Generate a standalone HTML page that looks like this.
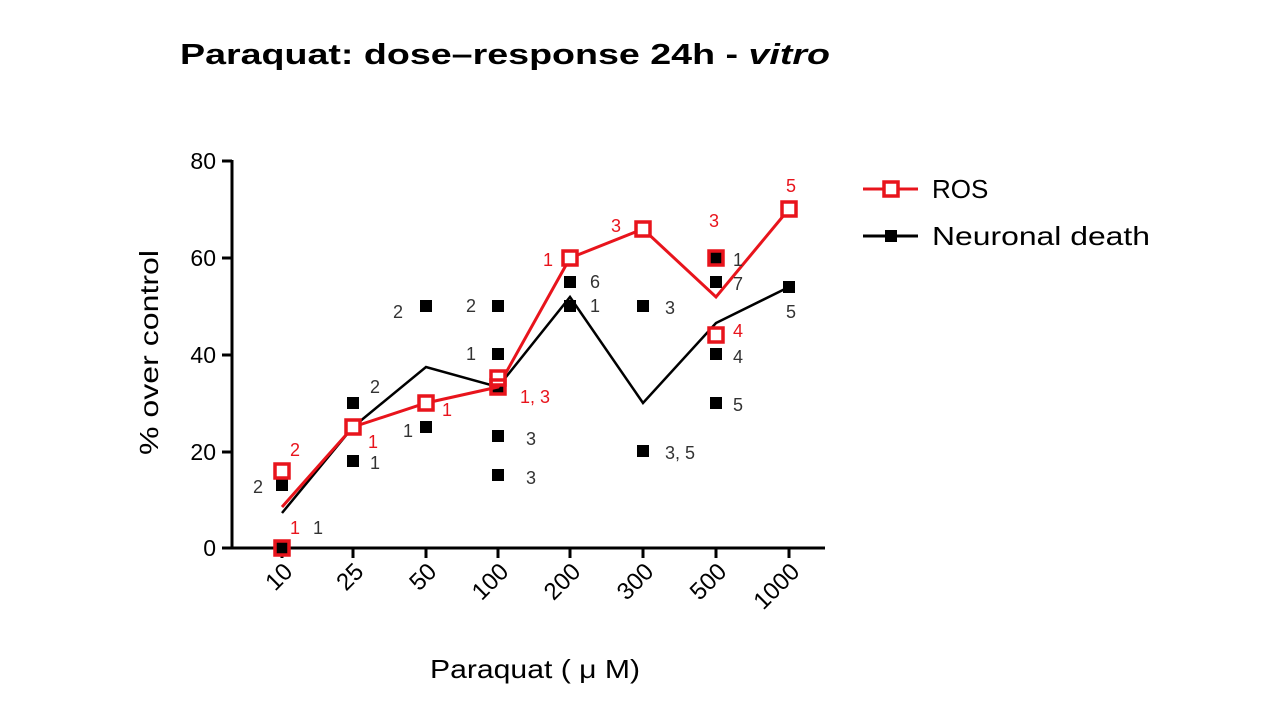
<!DOCTYPE html>
<html><head><style>body{margin:0;background:#fff}svg{display:block}</style></head><body>
<svg width="1280" height="720" xmlns="http://www.w3.org/2000/svg" font-family="Liberation Sans, Arial, sans-serif">
<text x="180" y="64" font-size="29" font-weight="bold" fill="#000" textLength="650" lengthAdjust="spacingAndGlyphs">Paraquat: dose–response 24h - <tspan font-style="italic">vitro</tspan></text>
<g stroke="#000" stroke-width="3">
<line x1="232" y1="160" x2="232" y2="549"/>
<line x1="231" y1="548" x2="825" y2="548"/>
<line x1="222" y1="161" x2="232" y2="161"/><line x1="222" y1="258" x2="232" y2="258"/><line x1="222" y1="355" x2="232" y2="355"/><line x1="222" y1="452" x2="232" y2="452"/><line x1="222" y1="548" x2="232" y2="548"/>
<line x1="282" y1="548" x2="282" y2="558"/><line x1="353" y1="548" x2="353" y2="558"/><line x1="426" y1="548" x2="426" y2="558"/><line x1="498" y1="548" x2="498" y2="558"/><line x1="570" y1="548" x2="570" y2="558"/><line x1="643" y1="548" x2="643" y2="558"/><line x1="716" y1="548" x2="716" y2="558"/><line x1="789" y1="548" x2="789" y2="558"/>
</g>
<g font-size="23" text-anchor="end" fill="#000">
<text x="216" y="169">80</text><text x="216" y="266">60</text><text x="216" y="363">40</text><text x="216" y="460">20</text><text x="216" y="556">0</text>
</g>
<g font-size="24" text-anchor="end" fill="#000">
<text transform="translate(294,573) rotate(-45)">10</text>
<text transform="translate(365,573) rotate(-45)">25</text>
<text transform="translate(438,573) rotate(-45)">50</text>
<text transform="translate(510,573) rotate(-45)">100</text>
<text transform="translate(582,573) rotate(-45)">200</text>
<text transform="translate(655,573) rotate(-45)">300</text>
<text transform="translate(728,573) rotate(-45)">500</text>
<text transform="translate(801,573) rotate(-45)">1000</text>
</g>
<text x="430" y="678" font-size="26" textLength="210" lengthAdjust="spacingAndGlyphs">Paraquat ( μ M)</text>
<text transform="translate(158,250) rotate(-90)" font-size="26" text-anchor="end" textLength="205" lengthAdjust="spacingAndGlyphs" x="-205" y="0" style="text-anchor:start">% over control</text>
<polyline fill="none" stroke="#000" stroke-width="2.5" points="282,513 353,427 426,367 498,387 570,297 643,403 716,323 789,287"/>
<g fill="#000">
<rect x="276" y="479" width="12" height="12"/><rect x="276" y="542" width="12" height="12"/>
<rect x="347" y="397" width="12" height="12"/><rect x="347" y="455" width="12" height="12"/>
<rect x="420" y="300" width="12" height="12"/><rect x="420" y="421" width="12" height="12"/>
<rect x="492" y="300" width="12" height="12"/><rect x="492" y="348" width="12" height="12"/><rect x="492" y="430" width="12" height="12"/><rect x="492" y="469" width="12" height="12"/><rect x="492" y="381" width="12" height="12"/>
<rect x="564" y="276" width="12" height="12"/><rect x="564" y="300" width="12" height="12"/>
<rect x="637" y="300" width="12" height="12"/><rect x="637" y="445" width="12" height="12"/>
<rect x="710" y="252" width="12" height="12"/><rect x="710" y="276" width="12" height="12"/><rect x="710" y="348" width="12" height="12"/><rect x="710" y="397" width="12" height="12"/>
<rect x="783" y="281" width="12" height="12"/>
</g>
<polyline fill="none" stroke="#e8141c" stroke-width="3" points="282,507 353,427 426,403 498,387 570,258 643,229 716,297 789,209"/>
<g fill="#fff" stroke="#e8141c" stroke-width="3.5">
<rect x="275" y="464" width="14" height="14"/><rect x="275" y="541" width="14" height="14" fill="none"/>
<rect x="346" y="420" width="14" height="14"/><rect x="419" y="396" width="14" height="14"/>
<rect x="491" y="371" width="14" height="14"/><rect x="491" y="380" width="14" height="14" fill="none"/>
<rect x="563" y="251" width="14" height="14"/><rect x="636" y="222" width="14" height="14"/>
<rect x="709" y="251" width="14" height="14" fill="none"/><rect x="709" y="328" width="14" height="14"/>
<rect x="782" y="202" width="14" height="14"/>
</g>
<g font-size="18" fill="#333">
<text x="253" y="493">2</text><text x="313" y="534">1</text>
<text x="370" y="393">2</text><text x="370" y="469">1</text>
<text x="393" y="318">2</text><text x="403" y="437">1</text>
<text x="466" y="312">2</text><text x="466" y="360">1</text><text x="526" y="445">3</text><text x="526" y="484">3</text>
<text x="590" y="288">6</text><text x="590" y="312">1</text>
<text x="665" y="314">3</text><text x="665" y="459">3, 5</text>
<text x="733" y="266">1</text><text x="733" y="290">7</text><text x="733" y="363">4</text><text x="733" y="411">5</text>
<text x="786" y="318">5</text>
</g>
<g font-size="18" fill="#e8141c">
<text x="290" y="456">2</text><text x="290" y="534">1</text>
<text x="368" y="448">1</text><text x="442" y="416">1</text><text x="520" y="403">1, 3</text>
<text x="543" y="266">1</text><text x="611" y="232">3</text><text x="709" y="227">3</text><text x="733" y="337">4</text><text x="786" y="192">5</text>
</g>
<line x1="863" y1="189" x2="918" y2="189" stroke="#e8141c" stroke-width="3"/>
<rect x="884" y="182" width="14" height="14" fill="#fff" stroke="#e8141c" stroke-width="3.5"/>
<text x="932" y="198" font-size="26">ROS</text>
<line x1="863" y1="236" x2="918" y2="236" stroke="#000" stroke-width="3"/>
<rect x="885" y="230" width="12" height="12" fill="#000"/>
<text x="932" y="245" font-size="26" textLength="218" lengthAdjust="spacingAndGlyphs">Neuronal death</text>
</svg>
</body></html>
